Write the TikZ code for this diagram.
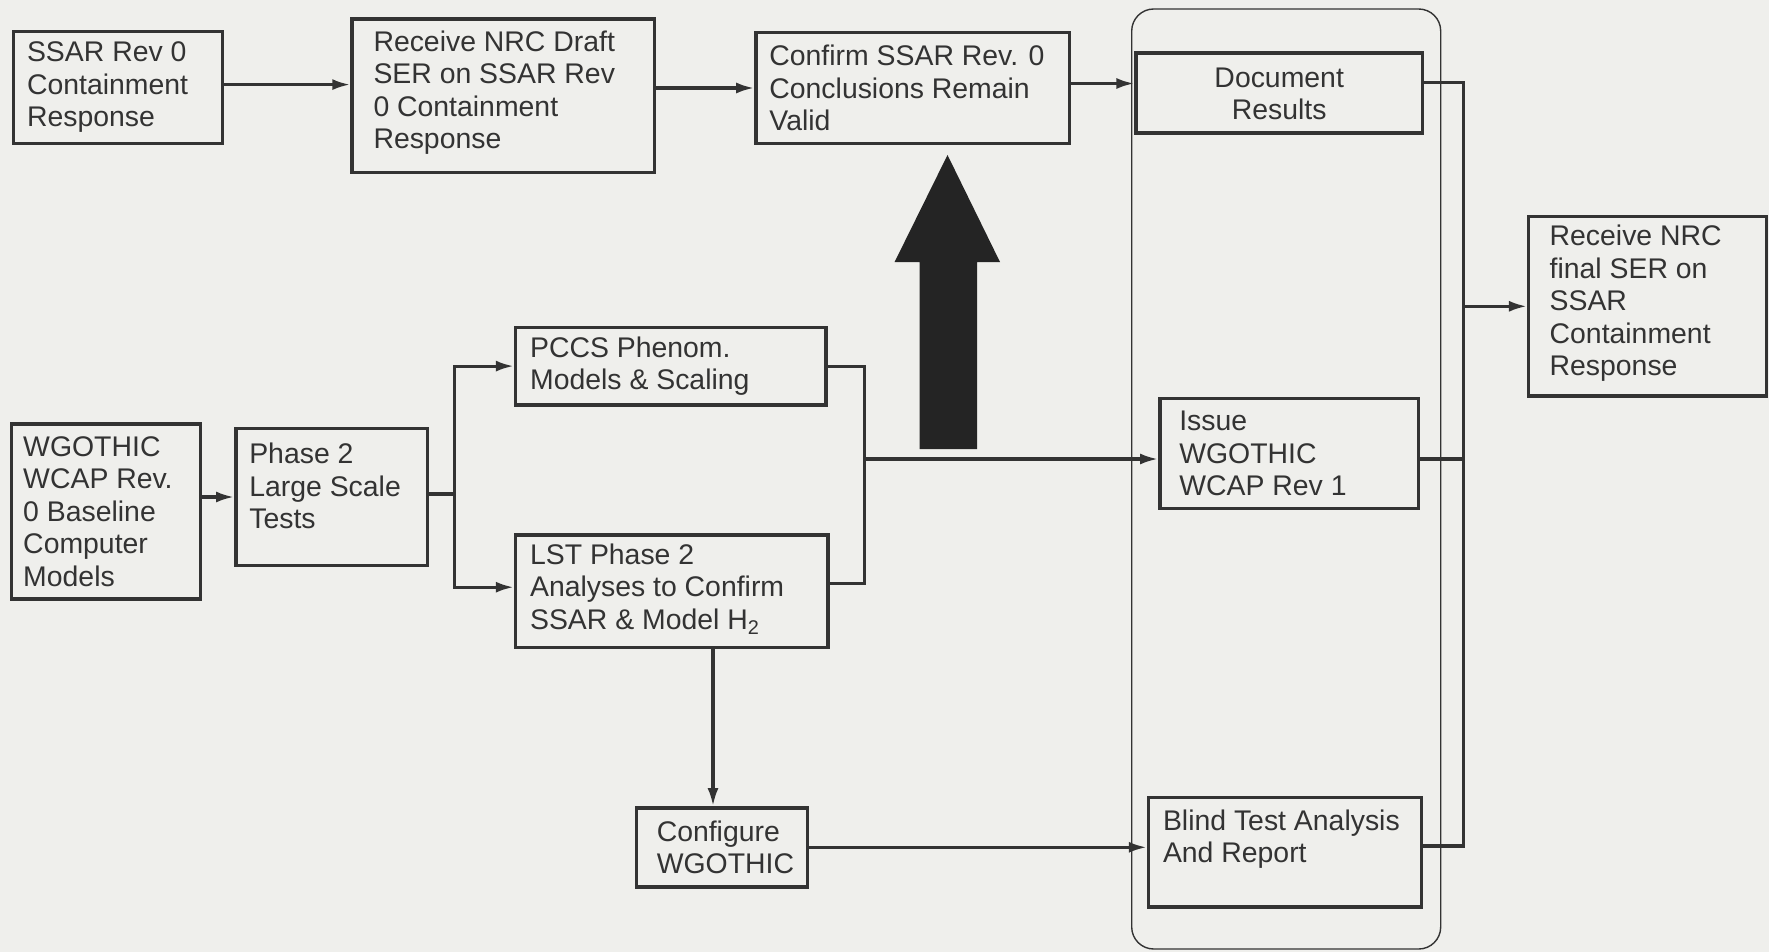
\documentclass[tikz,border=0pt]{standalone}
\usepackage{fontspec}
\setmainfont{Liberation Sans}
\usetikzlibrary{arrows.meta,calc}
\definecolor{bg}{HTML}{EFEFEC}
\definecolor{ink}{HTML}{333333}
\begin{document}
\begin{tikzpicture}[x=1pt,y=-1pt,
  box/.style={draw=ink, line width=3.4pt, inner sep=0pt},
  txt/.style={text=ink, font=\fontsize{28.4}{32.5}\selectfont, align=left, inner sep=0pt, anchor=west},
  conn/.style={draw=ink, line width=3.1pt},
  arr/.style={conn, -{Latex[length=18pt,width=11pt]}},
  grp/.style={draw=ink, line width=1.4pt, rounded corners=22pt, inner sep=0pt}]
\fill[bg] (0,0) rectangle (1769,952);
\useasboundingbox (0,0) rectangle (1769,952);

% group frame
\node[grp, minimum width=309pt, minimum height=940pt] (grp) at (1286.2,479) {};

% boxes
\node[box, minimum width=208.7pt, minimum height=111.7pt] (A) at (117.9,87.4) {};
\node[box, minimum width=302.4pt, minimum height=153.4pt] (B) at (503.2,95.9) {};
\node[box, minimum width=313.6pt, minimum height=110.6pt] (C) at (912.7,88) {};
\node[box, minimum width=286.1pt, minimum height=80.1pt] (D) at (1279.2,93.1) {};
\node[box, minimum width=258.4pt, minimum height=110.5pt] (E) at (1289,453.5) {};
\node[box, minimum width=273pt, minimum height=109.4pt] (F) at (1285,852.3) {};
\node[box, minimum width=238.1pt, minimum height=179.4pt] (G) at (1647.7,306.3) {};
\node[box, minimum width=189.5pt, minimum height=174.9pt] (H) at (106,511.6) {};
\node[box, minimum width=191.8pt, minimum height=136.5pt] (I) at (331.7,497) {};
\node[box, minimum width=310.2pt, minimum height=77.8pt] (J) at (670.7,366.1) {};
\node[box, minimum width=312.5pt, minimum height=112.8pt] (K) at (671.8,591.2) {};
\node[box, minimum width=171.5pt, minimum height=79pt] (L) at (722,847.3) {};

% texts
\node[txt] (tA) at ([xshift=15pt]A.west) {SSAR Rev 0\\Containment\\Response};
\node[txt] (tB) at ([xshift=23pt,yshift=3pt]B.west) {Receive NRC Draft\\SER on SSAR Rev\\0 Containment\\Response};
\node[txt] (tC) at ([xshift=15pt]C.west) {Confirm SSAR Rev. 0\\Conclusions Remain\\Valid};
\node[txt, anchor=center, align=center] (tD) at ([yshift=-1pt]D.center) {Document\\Results};
\node[txt] (tE) at ([xshift=21pt]E.west) {Issue\\WGOTHIC\\WCAP Rev 1};
\node[txt] (tF) at ([xshift=16pt,yshift=13pt]F.west) {Blind Test Analysis\\And Report};
\node[txt] (tG) at ([xshift=22.5pt,yshift=3pt]G.west) {Receive NRC\\final SER on\\SSAR\\Containment\\Response};
\node[txt] (tH) at ([xshift=13.5pt]H.west) {WGOTHIC\\WCAP Rev.\\0 Baseline\\Computer\\Models};
\node[txt] (tI) at ([xshift=15pt,yshift=11pt]I.west) {Phase 2\\Large Scale\\Tests};
\node[txt] (tJ) at ([xshift=16pt]J.west) {PCCS Phenom.\\Models \& Scaling};
\node[txt] (tK) at ([xshift=16pt,yshift=2pt]K.west) {LST Phase 2\\Analyses to Confirm\\SSAR \& Model H\textsubscript{2}};
\node[txt] (tL) at ([xshift=22pt]L.west) {Configure\\WGOTHIC};

% big arrow
\fill[ink!70!black] (919.5,449) -- (919.5,262) -- (894.6,262) -- (947.5,155) -- (1000,262) -- (977,262) -- (977,449) -- cycle;

% helper coordinates
\coordinate (s1) at (454.7,494);
\coordinate (m1) at (864.2,459);
\coordinate (busTop) at (1463.3,82.4);
\coordinate (busBot) at (1463.3,846);
\coordinate (bus) at (1463.3,306.3);
\coordinate (kl) at (713,700);

% connectors
\draw[arr] ([yshift=2.8pt]A.east) -- ([yshift=2.8pt]A.east -| B.west);
\draw[arr] (C.west -| B.east) -- (C.west);
\draw[arr] ([yshift=4.5pt]C.east) -- ([yshift=4.5pt]C.east -| D.west);

\draw[arr] (H.east |- I.west) -- (I.west);
\draw[conn] (I.east |- s1) -- (s1);
\draw[arr] (s1) |- (J.west);
\draw[arr] (s1) |- ([yshift=4pt]K.west);
\draw[conn] (J.east) -| (m1) |- ([yshift=8pt]K.east);
\draw[arr] (m1) -- (m1 -| E.west);
\draw[arr] (K.south -| kl) -- (L.north -| kl);
\draw[arr] (L.east) -- (L.east -| F.west);

\draw[conn] (D.east |- busTop) -- (busTop) -- (busBot) -- (busBot -| F.east);
\draw[conn] (E.east |- m1) -- (m1 -| busTop);
\draw[arr] (bus) -- (G.west);
\end{tikzpicture}
\end{document}
